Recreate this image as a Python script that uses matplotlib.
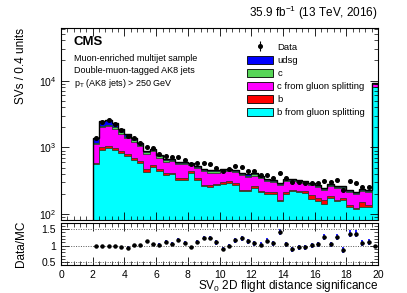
import numpy as np
import matplotlib
matplotlib.use("Agg")
import matplotlib.pyplot as plt
from matplotlib.patches import Patch
from matplotlib.ticker import MultipleLocator, LogLocator, NullFormatter

plt.rcParams['font.family'] = ['Liberation Sans', 'DejaVu Sans']
plt.rcParams['mathtext.fontset'] = 'custom'
plt.rcParams['mathtext.rm'] = 'Liberation Sans'
plt.rcParams['mathtext.it'] = 'Liberation Sans'

# binning: 0.4 wide from 2 to 20 (last bin holds overflow)
edges = np.arange(2.0, 20.01, 0.4)

# stacked MC components, bottom to top
b_gsp = [573, 911, 966, 911, 830, 739, 658, 579, 433, 504, 443, 381,
         394, 331, 331, 418, 331, 262, 256, 272, 288, 295, 279, 221,
         221, 249, 213, 203, 203, 156, 203, 221, 213, 208, 168, 156,
         142, 175, 156, 165, 128, 119, 128, 128, 8000]
b_jet = [19, 89, 81, 66, 60, 53, 47, 49, 37, 36, 27, 28,
         24, 20, 20, 25, 20, 16, 15, 16, 17, 18, 17, 13,
         13, 15, 13, 12, 12, 9, 12, 13, 13, 12, 25, 20,
         20, 10, 9, 10, 8, 7, 25, 8, 100]
c_gsp = [531, 1010, 1033, 941, 702, 578, 514, 407, 341, 330, 235, 198,
         215, 213, 213, 108, 140, 160, 150, 133, 141, 125, 131, 154,
         132, 116, 120, 100, 92, 110, 100, 81, 76, 71, 82, 83,
         69, 83, 79, 75, 76, 73, 71, 76, 750]
c_jet = [30, 94, 99, 92, 96, 80, 57, 50, 39, 40, 35, 33,
         24, 21, 21, 21, 18, 16, 16, 16, 17, 16, 16, 15,
         14, 14, 13, 12, 12, 10, 12, 12, 11, 11, 10, 10,
         9, 10, 9, 9, 8, 7, 8, 8, 100]
udsg = [217, 370, 415, 301, 208, 142, 108, 65, 40, 34, 34, 26,
        24, 21, 21, 21, 18, 16, 16, 16, 17, 16, 16, 15,
        14, 14, 13, 12, 12, 10, 12, 12, 11, 11, 10, 10,
        9, 10, 9, 9, 8, 7, 8, 8, 150]

data = [1370, 2430, 2540, 2265, 1840, 1500, 1400, 1160, 1005, 980, 800, 745,
        722, 709, 654, 563, 585, 578, 557, 498, 437, 470, 532, 510,
        445, 437, 383, 390, 354, 419, 353, 305, 308, 297, 298, 290,
        314, 300, 328, 233, 310, 290, 259, 253, 8920]
ratio_err = [0.03, 0.03, 0.03, 0.03, 0.03, 0.035, 0.035, 0.04, 0.045, 0.045, 0.05, 0.05,
             0.05, 0.055, 0.055, 0.055, 0.06, 0.065, 0.065, 0.065, 0.06, 0.065, 0.07, 0.07,
             0.07, 0.07, 0.07, 0.075, 0.075, 0.09, 0.075, 0.075, 0.075, 0.075, 0.08, 0.08,
             0.09, 0.08, 0.09, 0.08, 0.1, 0.1, 0.09, 0.09, 0.03]

labels = ['udsg', 'c', 'c from gluon splitting', 'b', 'b from gluon splitting']
colors = ['#0000ff', '#57d557', '#ff00ff', '#ff0000', '#00ffff']

comps = [np.array(b_gsp), np.array(b_jet), np.array(c_gsp), np.array(c_jet), np.array(udsg)]
cum = np.cumsum(comps, axis=0)
total = cum[-1]
data = np.array(data, dtype=float)
centers = 0.5 * (edges[:-1] + edges[1:])

fig = plt.figure(figsize=(4.07, 2.93), dpi=100)
ax = fig.add_axes([0.150, 0.249, 0.779, 0.655])
ax2 = fig.add_axes([0.150, 0.0956, 0.779, 0.143])

# draw cumulative stack, top level first
fill_cols = colors[::-1]  # bottom-to-top order: cyan, red, magenta, green, blue
for k in range(4, -1, -1):
    ax.stairs(cum[k], edges, baseline=1, fill=True, facecolor=fill_cols[k],
              edgecolor='#1a3a1a', linewidth=0.5)
ax.stairs(total, edges, baseline=1, fill=False, edgecolor='black', linewidth=1.0)

ax.errorbar(centers[:-1], data[:-1], yerr=np.sqrt(data[:-1]), fmt='o', color='black',
            ms=2.6, elinewidth=0.8, capsize=0)

ax.set_yscale('log')
ax.set_xlim(0, 20)
ax.set_ylim(82, 6.1e4)
ax.yaxis.set_major_locator(LogLocator(base=10, numticks=10))
ax.yaxis.set_minor_locator(LogLocator(base=10, subs=np.arange(2, 10), numticks=10))
ax.yaxis.set_minor_formatter(NullFormatter())
ax.xaxis.set_major_locator(MultipleLocator(2))
ax.xaxis.set_minor_locator(MultipleLocator(0.4))
ax.tick_params(axis='x', labelbottom=False)
ax.set_ylabel('SVs / 0.4 units', fontsize=8.5, loc='top')

for a in (ax, ax2):
    a.tick_params(which='both', direction='in', top=True, right=True, labelsize=7.5)
    a.tick_params(which='major', length=6, width=0.6)
    a.tick_params(which='minor', length=3, width=0.5)
    for s in a.spines.values():
        s.set_linewidth(0.8)

# text
fig.text(0.929, 0.925, '35.9 fb$^{-1}$ (13 TeV, 2016)', ha='right', va='bottom', fontsize=8.5)
ax.text(0.04, 0.958, 'CMS', transform=ax.transAxes, fontsize=9.5, fontweight='bold', va='top')
ax.text(0.04, 0.844, 'Muon-enriched multijet sample', transform=ax.transAxes, fontsize=6.5, va='center')
ax.text(0.04, 0.781, 'Double-muon-tagged AK8 jets', transform=ax.transAxes, fontsize=6.5, va='center')
ax.text(0.04, 0.712, 'p$_{\\mathregular{T}}$ (AK8 jets) > 250 GeV', transform=ax.transAxes,
        fontsize=6.5, va='center')

handles = [ax.errorbar([], [], yerr=[], fmt='o', color='black', ms=2.6, elinewidth=0.8)]
for lab, col in zip(labels, colors):
    handles.append(Patch(facecolor=col, edgecolor='black', linewidth=0.6))
leg = ax.legend(handles, ['Data'] + labels, loc='upper left', bbox_to_anchor=(0.575, 0.945),
                frameon=False, fontsize=6.8, handlelength=2.7, handleheight=1.0,
                labelspacing=0.38, handletextpad=0.5, borderaxespad=0)

# ratio panel
ratio = data / total
ax2.errorbar(centers, ratio, yerr=ratio_err, fmt='none', ecolor='#2020ff', elinewidth=1.4, capsize=0)
ax2.errorbar(centers, ratio, xerr=0.1, fmt='o', color='black', ms=2.2, elinewidth=0.8, capsize=0)
for yv in (0.5, 1.0, 1.5):
    ax2.axhline(yv, color='#555555', lw=0.7, ls=(0, (1, 1.5)))
ax2.set_xlim(0, 20)
ax2.set_ylim(0.42, 1.68)
ax2.xaxis.set_major_locator(MultipleLocator(2))
ax2.xaxis.set_minor_locator(MultipleLocator(0.4))
ax2.yaxis.set_minor_locator(MultipleLocator(0.1))
ax2.set_yticks([0.5, 1.0, 1.5])
ax2.set_yticklabels(['0.5', '1', '1.5'])
ax2.set_ylabel('Data/MC', fontsize=8.5)
ax2.set_xlabel('SV$_0$ 2D flight distance significance', fontsize=8.5, loc='right', labelpad=-1)

ax.yaxis.set_label_coords(-0.107, 1.0)
ax2.yaxis.set_label_coords(-0.107, 0.5)

fig.savefig('out.png', dpi=100)
